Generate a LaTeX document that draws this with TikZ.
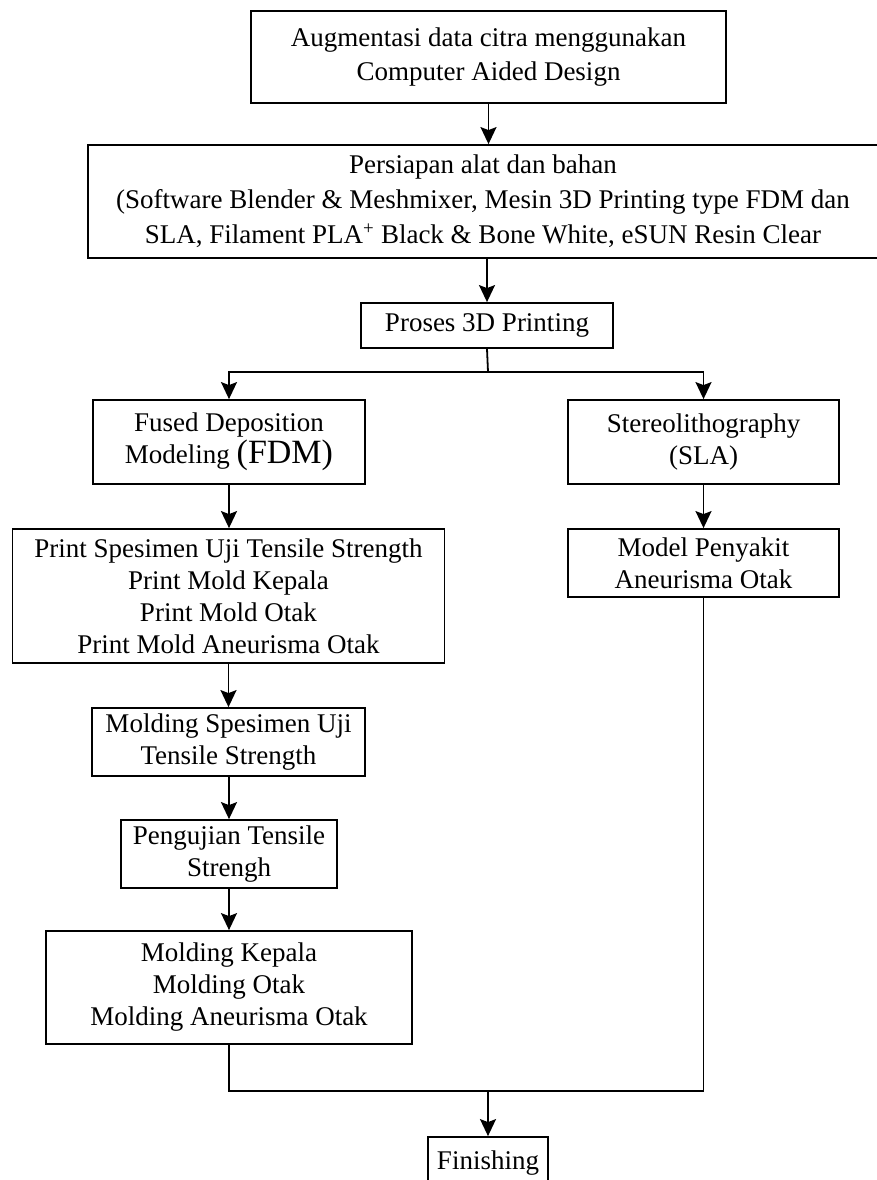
\documentclass[tikz,border=0pt]{standalone}
\usepackage{fontspec}
\setmainfont{Liberation Serif}
\usepackage{tikz}
\usetikzlibrary{arrows.meta, positioning, calc}

\begin{document}
\begin{tikzpicture}[
  x=1pt, y=-1pt,
  box/.style={draw, line width=1.8pt, inner sep=0pt, align=center,
    font=\fontsize{27}{32}\selectfont},
  arr/.style={line width=1.8pt, -{Stealth[length=17pt, width=16pt, inset=3pt]}},
  link/.style={line width=1.8pt}
]
  \clip (0,0) rectangle (877,1180);

  % Top of the chain
  \node[box, minimum width=475pt, minimum height=92pt,
    font=\fontsize{27}{34}\selectfont] (aug) at (488.5,57)
    {Augmentasi data citra menggunakan\\Computer Aided Design};
  \node[box, minimum width=790pt, minimum height=113pt,
    font=\fontsize{27}{35}\selectfont] (prep) at (483,201.5)
    {Persiapan alat dan bahan\\(Software Blender \& Meshmixer, Mesin 3D Printing type FDM dan\\SLA, Filament PLA\textsuperscript{+} Black \& Bone White, eSUN Resin Clear};
  \node[box, minimum width=252pt, minimum height=45pt] (proc) at (487,325.5)
    {Proses 3D Printing};

  % Two branches
  \node[box, minimum width=272pt, minimum height=84pt] (fdm) at (229,442)
    {Fused Deposition\\Modeling {\fontsize{34}{34}\selectfont(FDM)}};
  \node[box, minimum width=271pt, minimum height=84pt] (sla) at (703.5,442)
    {Stereolithography\\(SLA)};

  % Left column (FDM)
  \node[box, minimum width=432pt, minimum height=134pt] (print) at (228.5,596)
    {Print Spesimen Uji Tensile Strength\\Print Mold Kepala\\Print Mold Otak\\Print Mold Aneurisma Otak};
  \node[box, minimum width=273pt, minimum height=68pt] (molspec) at (228.5,742)
    {Molding Spesimen Uji\\Tensile Strength};
  \node[box, minimum width=216pt, minimum height=68pt] (uji) at (229,854)
    {Pengujian Tensile\\Strengh};
  \node[box, minimum width=366pt, minimum height=113pt] (molkep) at (229,987.5)
    {Molding Kepala\\Molding Otak\\Molding Aneurisma Otak};

  % Right column (SLA)
  \node[box, minimum width=271pt, minimum height=68pt] (model) at (703.5,563)
    {Model Penyakit\\Aneurisma Otak};

  % End
  \node[box, minimum width=120pt, minimum height=52pt] (fin) at (488,1163)
    {Finishing};

  % Connectors
  \coordinate (split) at ($(proc.south)+(1,23)$);
  \coordinate (merge) at (488,1091);
  \draw[arr] (aug.south) -- (aug.south |- prep.north);
  \draw[arr] (proc.north |- prep.south) -- (proc.north);
  \draw[link] (proc.south) -- (split);
  \draw[arr] (split) -| (fdm.north);
  \draw[arr] (split) -| (sla.north);
  \draw[arr] (fdm.south) -- (fdm.south |- print.north);
  \draw[arr] (sla.south) -- (model.north);
  \draw[arr] (molspec.north |- print.south) -- (molspec.north);
  \draw[arr] (uji.north |- molspec.south) -- (uji.north);
  \draw[arr] (uji.south) -- (uji.south |- molkep.north);
  \draw[link] (molkep.south) |- (merge);
  \draw[link] (model.south) |- (merge);
  \draw[arr] (merge) -- (fin.north);
\end{tikzpicture}
\end{document}
